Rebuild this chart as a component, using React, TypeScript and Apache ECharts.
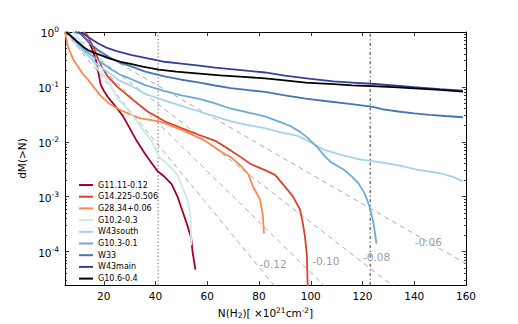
import React, { useEffect, useRef } from 'react';
import * as echarts from 'echarts';

const FONT = 'DejaVu Sans';

// axis ranges / tick labels
const X_MIN = 5;
const X_MAX = 160;
const Y_MIN = 2.45e-5;
const Y_MAX = 1;
const X_TICKS = [20, 40, 60, 80, 100, 120, 140, 160];
const Y_TICKS = [1e-4, 1e-3, 1e-2, 1e-1, 1];
const Y_MINOR: number[] = [];
[1e-5, 1e-4, 1e-3, 1e-2, 1e-1].forEach((d) => {
  for (let k = 2; k <= 9; k++) Y_MINOR.push(k * d);
});

// cloud names / colors
const NAMES = [
  'G11.11-0.12',
  'G14.225-0.506',
  'G28.34+0.06',
  'G10.2-0.3',
  'W43south',
  'G10.3-0.1',
  'W33',
  'W43main',
  'G10.6-0.4',
];
const COLORS = [
  '#a50026',
  '#e0402b',
  '#f88a50',
  '#cbe8f2',
  '#a6d3e7',
  '#6eaad5',
  '#4575b4',
  '#343f9a',
  '#000000',
];

// cumulative mass fraction curves: [N(H2) 1e21 cm^-2, dM(>N)]
const G11_11 = [
  [9, 1.0], [11, 0.93], [13, 0.75], [14.6, 0.62], [16, 0.42], [17, 0.3], [17.8, 0.19],
  [18.8, 0.11], [20, 0.085], [21.5, 0.066], [24.2, 0.046], [27.3, 0.03], [30, 0.0177],
  [32.7, 0.0104], [35.8, 0.0062], [38.8, 0.0039], [40.8, 0.0029], [43.5, 0.0023],
  [46.2, 0.0017], [48.5, 0.001], [50.4, 0.00055], [52.3, 0.0003], [53.8, 0.000175],
  [54.3, 0.0001], [55.4, 0.000047],
];
const G14_225 = [
  [12, 1.0], [13.5, 0.9], [15, 0.65], [16.5, 0.47], [18, 0.31], [19.2, 0.234], [21.5, 0.155],
  [25.4, 0.099], [30.8, 0.0605], [36.9, 0.0356], [43.5, 0.0236], [50, 0.0177], [56.9, 0.0133],
  [63.1, 0.0104], [69.2, 0.0069], [73.1, 0.0052], [76.9, 0.0039], [82.3, 0.00305],
  [86.2, 0.00249], [90, 0.00152], [93.1, 0.00101], [95.8, 0.00059], [96.9, 0.000334],
  [97.7, 0.000196], [98.5, 0.0000867], [99, 0.00001],
];
const G28_34 = [
  [5, 1.0], [5.4, 0.8], [6.2, 0.53], [8, 0.33], [10, 0.234], [12, 0.17], [13.8, 0.137],
  [16, 0.1], [18.8, 0.0685], [22, 0.05], [25.4, 0.04], [30, 0.032], [34.2, 0.0267],
  [38, 0.025], [41.2, 0.0236], [43.5, 0.0218], [50, 0.0165], [56.9, 0.0118], [60, 0.0098],
  [63.1, 0.0078], [66, 0.0063], [69.2, 0.0052], [72.7, 0.00374], [75.8, 0.00259],
  [77.7, 0.00152], [80.4, 0.00089], [81.5, 0.000446], [81.9, 0.000213],
];
const G10_2 = [
  [8, 1.0], [10, 0.8], [12, 0.55], [14, 0.4], [16, 0.28], [18, 0.2], [20, 0.16], [21.5, 0.137],
  [23.5, 0.09], [25.4, 0.0605], [28, 0.045], [31.2, 0.03], [34.6, 0.0177], [38.5, 0.0104],
  [41.5, 0.0052], [44.6, 0.0039], [48.5, 0.0025], [50.4, 0.0015], [52.3, 0.00089],
  [53.5, 0.00045], [53.8, 0.00013],
];
const W43_SOUTH = [
  [6, 1.0], [8, 0.75], [10, 0.55], [13, 0.4], [17.7, 0.25], [22, 0.18], [26, 0.13],
  [30.8, 0.103], [36, 0.075], [43.5, 0.056], [50, 0.045], [56.9, 0.0356], [63, 0.029],
  [69.2, 0.0236], [76, 0.02], [82.3, 0.0177], [88, 0.015], [95, 0.0128], [100.4, 0.0095],
  [105, 0.0072], [111, 0.0059], [118.8, 0.0048], [126, 0.0043], [134, 0.0037], [141, 0.0031],
  [149.6, 0.0027], [155, 0.0023], [158.8, 0.0019],
];
const G10_3 = [
  [6, 1.0], [8, 0.8], [10, 0.62], [13, 0.45], [17.7, 0.31], [22, 0.22], [26, 0.17],
  [30.8, 0.137], [36, 0.108], [43.5, 0.084], [50, 0.07], [56.9, 0.0605], [63, 0.05],
  [69.2, 0.04], [76, 0.034], [82.3, 0.029], [88, 0.023], [92.3, 0.0192], [96, 0.015],
  [98.8, 0.0118], [102.7, 0.0078], [105.8, 0.0052], [108, 0.0042], [113, 0.00305],
  [116, 0.0023], [118.5, 0.00173], [120.8, 0.00115], [122.7, 0.00067], [124.2, 0.00034],
  [125.4, 0.00014],
];
const W33 = [
  [9, 1.0], [11, 0.93], [13, 0.75], [15, 0.6], [17.7, 0.47], [22, 0.35], [26, 0.28],
  [30.8, 0.234], [36, 0.19], [43.5, 0.155], [50, 0.135], [56.5, 0.121], [63, 0.106],
  [69, 0.095], [76, 0.087], [82.3, 0.081], [90, 0.07], [98, 0.061], [108, 0.0536],
  [115, 0.049], [123.5, 0.0437], [128, 0.039], [133.8, 0.0356], [140, 0.033], [146, 0.031],
  [152, 0.0295], [158.8, 0.028],
];
const W43_MAIN = [
  [10, 1.0], [12, 0.93], [14.5, 0.78], [17.7, 0.625], [21, 0.52], [25, 0.45], [30.8, 0.38],
  [37, 0.33], [43.5, 0.287], [50, 0.265], [56.9, 0.244], [63, 0.225], [69, 0.21], [76, 0.195],
  [82.3, 0.183], [90, 0.16], [100, 0.14], [108.8, 0.126], [116, 0.12], [123.5, 0.114],
  [132, 0.106], [140, 0.099], [150, 0.091], [158.8, 0.085],
];
const G10_6 = [
  [5.5, 1.0], [6.2, 0.94], [8, 0.78], [10, 0.65], [12, 0.54], [13.8, 0.47], [16, 0.42],
  [18.8, 0.38], [22, 0.33], [26.5, 0.287], [30.8, 0.26], [35, 0.235], [41.2, 0.207],
  [48, 0.19], [56.9, 0.175], [65, 0.162], [74, 0.152], [82.3, 0.143], [90, 0.132], [98, 0.12],
  [108.8, 0.112], [116, 0.107], [123.5, 0.103], [132, 0.099], [140, 0.094], [150, 0.088],
  [158.8, 0.082],
];
const CURVES = [G11_11, G14_225, G28_34, G10_2, W43_SOUTH, G10_3, W33, W43_MAIN, G10_6];

// exponential reference lines (straight in log space): start point, end value at N=160
const SLOPE_NAMES = ['-0.12', '-0.10', '-0.08', '-0.06'];
const SLOPE_START_N = 5;
const SLOPE_START_V = 1;
const SLOPE_END_N = 160;
const SLOPE_END_V = [1.4e-9, 7.1e-8, 2.2e-6, 6.0e-5];
const SLOPE_LABEL_N = [85.4, 105.8, 125.4, 145.4];
const SLOPE_LABEL_V = [5.9e-5, 6.8e-5, 8.1e-5, 1.48e-4];

// vertical marker lines
const VLINE_N = [41, 123];

const pow10Label = (v: number) => '{b|10}{s|' + String(Math.round(Math.log10(v))) + '}';

const black = '#000000';

function buildOption(): any {
  const series: any[] = [];

  SLOPE_NAMES.forEach((nm, i) => {
    series.push({
      type: 'line',
      name: 'slope' + nm,
      data: [
        [SLOPE_START_N, SLOPE_START_V],
        [SLOPE_END_N, SLOPE_END_V[i]],
      ],
      showSymbol: false,
      symbol: 'none',
      silent: true,
      lineStyle: { color: '#ababab', width: 1, type: [5, 4] },
      z: 1,
    });
  });

  series.push({
    type: 'line',
    name: 'vline1',
    data: [
      [VLINE_N[0], Y_MIN],
      [VLINE_N[0], Y_MAX],
    ],
    symbol: 'none',
    silent: true,
    lineStyle: { color: '#8c8c8c', width: 1.3, type: [1.3, 2.2] },
    z: 1,
  });
  series.push({
    type: 'line',
    name: 'vline2',
    data: [
      [VLINE_N[1], Y_MIN],
      [VLINE_N[1], Y_MAX],
    ],
    symbol: 'none',
    silent: true,
    lineStyle: { color: '#7a7a7a', width: 1.6, type: [3, 2.5, 1.2, 2.5] },
    z: 1,
  });

  series.push({
    type: 'scatter',
    name: 'slopeLabels',
    data: SLOPE_NAMES.map((nm, i) => [SLOPE_LABEL_N[i], SLOPE_LABEL_V[i]]),
    symbolSize: 1,
    itemStyle: { color: 'rgba(0,0,0,0)' },
    silent: true,
    label: {
      show: true,
      position: 'inside',
      formatter: (p: any) => SLOPE_NAMES[p.dataIndex],
      color: '#7f7f7f',
      fontSize: 10.5,
      fontFamily: FONT,
    },
    z: 2,
  });

  NAMES.forEach((nm, i) => {
    series.push({
      type: 'line',
      name: nm,
      data: CURVES[i],
      symbol: 'none',
      showSymbol: false,
      lineStyle: { color: COLORS[i], width: 1.8 },
      itemStyle: { color: COLORS[i] },
      z: 3 + i,
    });
  });

  const axisLine = { show: true, onZero: false, lineStyle: { color: black, width: 1 } };
  const tickLine = { color: black, width: 0.8 };

  return {
    animation: false,
    backgroundColor: '#ffffff',
    textStyle: { fontFamily: FONT },
    grid: { left: 65, right: 52, top: 32, bottom: 33, containLabel: false },
    legend: {
      data: NAMES,
      orient: 'vertical',
      left: 74,
      top: 175,
      icon: 'rect',
      itemWidth: 14,
      itemHeight: 2,
      itemGap: 1.7,
      textStyle: { fontSize: 8, color: black, fontFamily: FONT, lineHeight: 10 },
      selectedMode: false,
    },
    xAxis: [
      {
        type: 'value',
        min: X_MIN,
        max: X_MAX,
        position: 'bottom',
        axisLine,
        axisTick: { show: true, inside: true, length: 4, customValues: X_TICKS, lineStyle: tickLine },
        axisLabel: {
          customValues: X_TICKS,
          color: black,
          fontSize: 10.5,
          fontFamily: FONT,
          margin: 5,
        },
        splitLine: { show: false },
        name: 'N(H{sub|2})[ ×10{sup|21}cm{sup|-2}]',
        nameLocation: 'middle',
        nameGap: 15,
        nameTextStyle: {
          color: black,
          fontSize: 10.5,
          fontFamily: FONT,
          lineHeight: 13,
          rich: {
            sub: { fontSize: 7.5, fontFamily: FONT, color: black, verticalAlign: 'bottom', lineHeight: 8 },
            sup: { fontSize: 7.5, fontFamily: FONT, color: black, verticalAlign: 'top', lineHeight: 8 },
          },
        },
      },
      {
        type: 'value',
        min: X_MIN,
        max: X_MAX,
        position: 'top',
        axisLine,
        axisTick: { show: true, inside: true, length: 4, customValues: X_TICKS, lineStyle: tickLine },
        axisLabel: { show: false },
        splitLine: { show: false },
      },
    ],
    yAxis: [
      {
        type: 'log',
        logBase: 10,
        min: Y_MIN,
        max: Y_MAX,
        position: 'left',
        axisLine,
        axisTick: { show: true, inside: true, length: 4, customValues: Y_TICKS, lineStyle: tickLine },
        axisLabel: {
          customValues: Y_TICKS,
          formatter: (v: number) => pow10Label(v),
          color: black,
          fontSize: 10.5,
          fontFamily: FONT,
          margin: 6,
          rich: {
            b: { fontSize: 10.5, fontFamily: FONT, color: black, lineHeight: 13, verticalAlign: 'bottom' },
            s: { fontSize: 7.5, fontFamily: FONT, color: black, lineHeight: 8, verticalAlign: 'top' },
          },
        },
        splitLine: { show: false },
        name: 'dM(>N)',
        nameLocation: 'middle',
        nameGap: 29,
        nameRotate: 90,
        nameTextStyle: { color: black, fontSize: 10.5, fontFamily: FONT },
      },
      {
        type: 'log',
        logBase: 10,
        min: Y_MIN,
        max: Y_MAX,
        position: 'left',
        axisLine: { show: false },
        axisTick: { show: true, inside: true, length: 2, customValues: Y_MINOR, lineStyle: tickLine },
        axisLabel: { show: false },
        splitLine: { show: false },
      },
      {
        type: 'log',
        logBase: 10,
        min: Y_MIN,
        max: Y_MAX,
        position: 'right',
        axisLine,
        axisTick: { show: true, inside: true, length: 4, customValues: Y_TICKS, lineStyle: tickLine },
        axisLabel: { show: false },
        splitLine: { show: false },
      },
      {
        type: 'log',
        logBase: 10,
        min: Y_MIN,
        max: Y_MAX,
        position: 'right',
        axisLine: { show: false },
        axisTick: { show: true, inside: true, length: 2, customValues: Y_MINOR, lineStyle: tickLine },
        axisLabel: { show: false },
        splitLine: { show: false },
      },
    ],
    series,
  };
}

export default function App() {
  const ref = useRef<HTMLDivElement>(null);
  useEffect(() => {
    document.body.style.margin = '0';
    const chart = echarts.init(ref.current as HTMLDivElement, null, { renderer: 'svg' });
    chart.setOption(buildOption());
    return () => chart.dispose();
  }, []);
  return <div ref={ref} style={{ width: 518, height: 324 }} />;
}
